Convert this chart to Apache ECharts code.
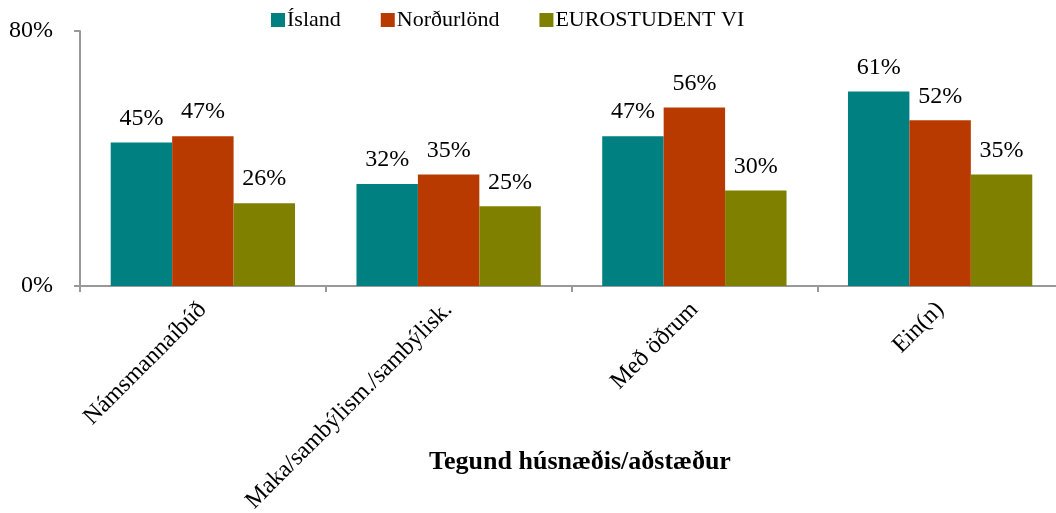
<!DOCTYPE html>
<html>
<head>
<meta charset="utf-8">
<script src="https://cdn.jsdelivr.net/npm/echarts@6/dist/echarts.min.js"></script>
<style>
  html, body { margin: 0; padding: 0; background: #fff; }
  #main { width: 1056px; height: 513px; }
</style>
</head>
<body>
<div id="main"></div>
<script>
// data
const categories = ['Námsmannaíbúð', 'Maka/sambýlism./sambýlisk.', 'Með öðrum', 'Ein(n)'];
const island = [45, 32, 47, 61];
const nordurlond = [47, 35, 56, 52];
const eurostudent = [26, 25, 30, 35];
const seriesNames = ['Ísland', 'Norðurlönd', 'EUROSTUDENT VI'];
const yTicks = [0, 80];

const font = '"Liberation Serif", "Times New Roman", serif';
const axisGray = '#999999';

function barSeries(name, data, color) {
  return {
    name: name,
    type: 'bar',
    data: data,
    barGap: '0%',
    barCategoryGap: '25%',
    itemStyle: { color: color },
    label: {
      show: true,
      position: 'top',
      distance: 12,
      formatter: '{c}%',
      color: '#000',
      fontFamily: font,
      fontSize: 24
    }
  };
}

const myChart = echarts.init(document.getElementById('main'));

const option = {
  animation: false,
  textStyle: { fontFamily: font },
  legend: {
    data: seriesNames,
    left: 266,
    top: 4,
    itemWidth: 14,
    itemHeight: 14,
    itemGap: 40,
    icon: 'rect',
    textStyle: { fontFamily: font, fontSize: 22, color: '#000', padding: [0, 0, 0, -3] }
  },
  grid: {
    left: 80, right: -7, top: 31, bottom: 227,
    containLabel: false,
    outerBoundsMode: 'none'
  },
  xAxis: {
    type: 'category',
    data: categories,
    axisLine: { lineStyle: { color: axisGray, width: 2 } },
    axisTick: { show: true, length: 6, lineStyle: { color: axisGray, width: 2 } },
    axisLabel: {
      rotate: 45,
      margin: 20,
      color: '#000',
      fontFamily: font,
      fontSize: 24,
      interval: 0
    }
  },
  yAxis: {
    type: 'value',
    min: yTicks[0],
    max: yTicks[yTicks.length - 1],
    interval: yTicks[1] - yTicks[0],
    axisLine: { show: true, lineStyle: { color: axisGray, width: 2 } },
    axisTick: { show: true, length: 6, lineStyle: { color: axisGray, width: 2 } },
    splitLine: { show: false },
    axisLabel: {
      formatter: '{value}%',
      margin: 27,
      color: '#000',
      fontFamily: font,
      fontSize: 24
    }
  },
  graphic: [{
    type: 'text',
    x: 580,
    y: 462,
    style: {
      text: 'Tegund húsnæðis/aðstæður',
      fontFamily: font,
      fontSize: 26,
      fontWeight: 'bold',
      fill: '#000',
      align: 'center',
      verticalAlign: 'middle'
    }
  }],
  series: [
    barSeries(seriesNames[0], island, '#008080'),
    barSeries(seriesNames[1], nordurlond, '#B83A00'),
    barSeries(seriesNames[2], eurostudent, '#808000')
  ]
};

myChart.setOption(option);
</script>
</body>
</html>
